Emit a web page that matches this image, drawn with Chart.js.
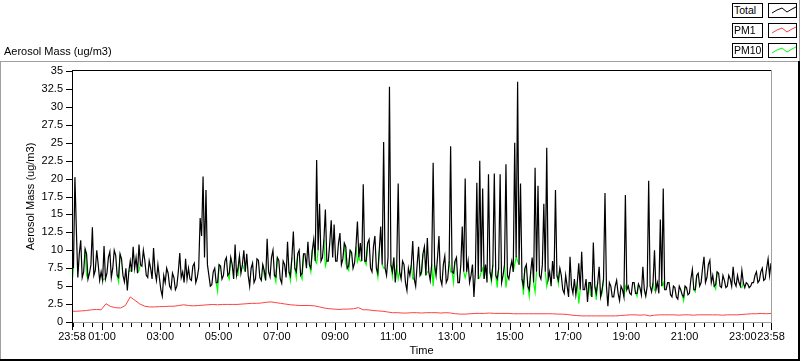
<!DOCTYPE html>
<html><head><meta charset="utf-8">
<script src="https://cdn.jsdelivr.net/npm/chart.js@4.4.0/dist/chart.umd.min.js"></script>
<style>
html,body{margin:0;padding:0;background:#fff;width:800px;height:361px;overflow:hidden;font-family:"Liberation Sans",Arial,sans-serif;}
#wrap{position:absolute;left:0;top:0;width:800px;height:361px;}
canvas{position:absolute;left:0;top:0;}
.ln{position:absolute;}
.ttl{position:absolute;left:4px;top:45px;font-size:11px;line-height:13px;color:#000;white-space:nowrap;}
.lg{position:absolute;box-sizing:border-box;border:1px solid #000;height:15px;background:#fff;font-size:10.5px;line-height:13px;padding-left:1px;color:#000;white-space:nowrap;overflow:hidden;}
.lgs{position:absolute;box-sizing:border-box;border:1px solid #000;height:15px;width:29px;background:#fff;}
.lgs svg{position:absolute;left:0;top:0;}
</style></head>
<body>
<div id="wrap">
<canvas id="c" width="800" height="361"></canvas>
<div class="ln" style="left:0;top:61px;width:799px;height:1px;background:#a0a0a0"></div>
<div class="ln" style="left:0;top:61px;width:1px;height:300px;background:#a0a0a0"></div>
<div class="ln" style="left:798px;top:61px;width:2px;height:300px;background:#000"></div>
<div class="ln" style="left:0;top:359px;width:800px;height:2px;background:#000"></div>
<div class="ln" style="left:799px;top:0;width:1px;height:61px;background:#a0a0a0"></div>
<div class="ttl">Aerosol Mass (ug/m3)</div>
<div id="legend"></div>
</div>
<script>
// ---- data (minutes since the 23:58 start) ----
// Total and PM10: one value every 3 minutes, one row per hour
const massStepMin = 3;
const totalMass = [
 10.5, 7.5, 20.2, 12.8, 6.2, 9.5, 11.4, 6.2, 7, 10.2, 9.5, 6, 6.8, 8, 13.2, 6.5, 7.2, 10, 8, 5.8,
 7, 5.8, 10.6, 6, 6.8, 9, 9.8, 6.2, 7.5, 10, 9.3, 6.5, 6.2, 9.5, 8.8, 6.5, 5.6, 7.5, 4.4, 7,
 8.5, 7, 10.5, 7.5, 9, 6.8, 10.8, 8, 7.8, 10, 8.6, 6.5, 6.2, 8.5, 7.5, 6, 10.3, 7, 5.8, 8,
 6.2, 4.5, 3.6, 6.5, 5.5, 7.5, 6.8, 5, 4.6, 6.8, 6.2, 4.5, 5, 7, 9.6, 6.2, 7, 5.5, 8.8, 6,
 7.5, 6, 5.8, 7.8, 8.2, 5.5, 6.2, 7.5, 14.5, 12, 20.3, 9, 18.4, 8, 6.5, 5, 5.2, 7, 7.5, 5.5,
 5.5, 8, 7.8, 6, 6.5, 8.5, 9, 6.5, 6.8, 9, 8, 6, 10.8, 6.5, 7.5, 9.2, 6.8, 8, 10, 7,
 9.5, 6.5, 5, 7.5, 8.2, 5.5, 6, 8.8, 8.6, 6.2, 5.8, 8, 7.2, 5.8, 11.6, 7, 6.3, 9, 10, 6.5,
 6.3, 9, 8.6, 6, 5.4, 8.5, 8, 6.2, 11.2, 7, 6.4, 9, 12.6, 7.5, 7, 9.5, 10, 6.5, 6.8, 9.5,
 9.5, 7.5, 11.2, 8, 7.5, 10, 11.5, 8.5, 22.6, 10, 16.5, 8.5, 9, 11.5, 15.7, 8.5, 8.5, 11, 14.2, 9,
 13.6, 8.5, 8.5, 11, 12.4, 8, 8.8, 11, 10.5, 7.5, 7.8, 10, 9.7, 7.5, 8.2, 10.5, 14, 9, 11, 8.5,
 19.2, 8.5, 8.5, 11, 11.5, 7.5, 7, 10.5, 12, 7.5, 6.8, 10, 13.3, 8, 25.1, 7.5, 6.5, 9, 32.8, 8,
 7, 9, 5.5, 8, 19.3, 7, 6, 8.5, 8, 5.5, 4.4, 7.5, 6.5, 8, 11.3, 6, 5, 8, 10.5, 6.5,
 7, 9.5, 10.5, 6.5, 11.7, 7, 5.8, 8, 22.2, 8, 6.5, 9, 12, 6, 5.2, 8, 9.2, 5.5, 6, 8.5,
 24.5, 7, 6.8, 8.5, 9, 5.5, 5.5, 8, 13.3, 7, 20, 7, 8.5, 5.5, 6.5, 8, 3.5, 7, 19.4, 6,
 22.5, 7, 18.6, 6, 8, 5.5, 20.6, 7, 6, 8, 20.7, 6.5, 6, 7.5, 20.6, 5.5, 6.5, 8, 22, 6.5,
 6, 7.5, 8.5, 7, 25, 9, 33.5, 8, 19.3, 6, 5, 7.5, 8, 5, 4.5, 7, 9, 5.5, 21.5, 7,
 19, 6.5, 6, 8, 16.5, 7, 24.3, 6, 7, 5, 8.5, 6, 18.4, 6.5, 5.8, 7.5, 6.5, 4.5, 4, 6.5,
 5, 3.5, 9.1, 5, 4, 6, 3.8, 5.5, 8.2, 4.5, 9.8, 4.5, 4.5, 6, 2.8, 5.5, 5.5, 3.5, 11.1, 5,
 4, 5.5, 7.7, 3.5, 4.5, 6, 18, 5, 2.2, 5.5, 5, 3.5, 3.5, 5, 5.8, 4, 3, 5, 4.5, 3.5,
 17.7, 4.5, 5, 4, 3.8, 5.5, 5.5, 4, 4, 5.3, 4.8, 3.8, 7.7, 4.5, 3.6, 5, 19.7, 5, 4.2, 5.5,
 10, 4.5, 5.5, 4, 14.3, 5, 18.6, 4.5, 4.5, 5.5, 5.5, 3.8, 3.5, 5, 4.8, 3.5, 3.2, 5, 4.5, 3.8,
 3.5, 5, 4.8, 3.8, 4, 6, 7.3, 4.5, 4.5, 6.5, 6.8, 5, 5.5, 7.5, 9.1, 5.5, 6.2, 8, 8.6, 5.5,
 6.5, 5, 5.2, 7, 6.8, 5, 4.8, 6.5, 5.8, 4.8, 5, 6.5, 6, 5, 7.7, 5.5, 5, 6.5, 5.5, 5,
 7.2, 5.5, 4.8, 5.5, 5.3, 4.8, 5, 5.5, 5.5, 6.5, 7, 5.5, 5.8, 7, 7.5, 5.8, 6, 7.5, 8.8, 6.5,
 8.2
];
const pm10Mass = [
 5.3, 7.5, 20.2, 12.8, 6.2, 9.5, 11.4, 6.2, 7, 10.2, 6.5, 6, 6.8, 8, 13.2, 6.5, 7.2, 10, 8, 5.8,
 7, 5.8, 6.0, 6, 6.8, 9, 9.8, 6.2, 7.5, 10, 9.3, 6.5, 5.6, 9.5, 8.8, 6.5, 5.6, 7.5, 4.4, 7,
 7.2, 7, 10.5, 7.5, 9, 6.8, 7.2, 8, 7.8, 10, 8.6, 6.5, 6.2, 8.5, 7.5, 6, 10.3, 7, 5.8, 8,
 6.2, 4.5, 3.6, 6.5, 5.5, 7.5, 6.8, 5, 4.6, 6.8, 6.2, 4.5, 5, 7, 9.6, 6.2, 7, 5.5, 8.8, 6,
 7.5, 6, 5.8, 7.8, 8.2, 5.5, 6.2, 7.5, 14.5, 12, 20.3, 9, 18.4, 8, 6.5, 5, 5.2, 7, 7.5, 5.5,
 4.3, 8, 7.8, 6, 6.5, 8.5, 9, 6.5, 6.0, 9, 8, 6, 10.8, 6.5, 6.5, 9.2, 6.8, 8, 7.5, 7,
 9.5, 6.5, 5, 7.5, 8.2, 5.5, 6, 8.8, 8.6, 6.2, 5.8, 8, 6.5, 5.8, 11.6, 7, 6.3, 9, 10, 6.5,
 5.6, 9, 8.6, 6, 5.4, 8.5, 8, 6.2, 11.2, 7, 5.8, 9, 12.6, 7.5, 6.2, 9.5, 10, 6.5, 6.0, 9.5,
 9.5, 7.5, 11.2, 8, 7.0, 10, 11.5, 8.5, 8.2, 10, 16.5, 8.5, 9, 11.5, 7.8, 8.5, 8.5, 11, 14.2, 9,
 13.6, 8.5, 8.5, 11, 12.4, 8, 8.8, 11, 8.2, 7.5, 7.2, 10, 9.7, 7.5, 8.2, 10.5, 8.4, 9, 8.5, 8.5,
 19.2, 8.5, 8.0, 11, 11.5, 7.5, 7, 10.5, 12, 7.5, 6.3, 10, 13.3, 8, 7.5, 7.5, 6.5, 9, 32.8, 8,
 6.4, 9, 5.5, 8, 6.0, 7, 6, 8.5, 8, 5.5, 4.4, 7.5, 6.5, 8, 6.0, 6, 5, 8, 10.5, 6.5,
 6.6, 9.5, 10.5, 6.5, 7.0, 7, 5.8, 8, 5.0, 8, 6.5, 9, 12, 6, 5.2, 8, 9.2, 5.5, 6, 8.5,
 7.0, 7, 5.5, 8.5, 9, 5.5, 5.5, 8, 13.3, 7, 6.2, 7, 8.5, 5.5, 6.5, 8, 3.5, 7, 19.4, 6,
 6.2, 7, 7.5, 6, 8, 5.5, 20.6, 7, 5.6, 8, 20.7, 6.5, 4.8, 7.5, 20.6, 5.5, 6.5, 8, 4.8, 6.5,
 6, 7.5, 8.5, 7, 8.0, 9, 8.5, 8, 19.3, 6, 3.8, 7.5, 8, 5, 3.6, 7, 9, 5.5, 4.2, 7,
 19, 6.5, 6, 8, 16.5, 7, 5.0, 6, 7, 5, 8.5, 6, 18.4, 6.5, 5.3, 7.5, 6.5, 4.5, 4, 6.5,
 5, 3.5, 9.1, 5, 4, 6, 3.8, 5.5, 2.6, 4.5, 9.8, 4.5, 4.5, 6, 2.8, 5.5, 3.8, 3.5, 11.1, 5,
 3.1, 5.5, 7.7, 3.5, 4.0, 6, 18, 5, 2.2, 5.5, 5, 3.5, 3.5, 5, 5.8, 4, 3, 5, 4.5, 3.5,
 5.0, 4.5, 5, 4, 3.8, 5.5, 5.5, 4, 3.6, 5.3, 4.8, 3.8, 7.7, 4.5, 3.6, 5, 19.7, 5, 4.2, 5.5,
 4.4, 4.5, 5.5, 4, 14.3, 5, 5.5, 4.5, 4.5, 5.5, 5.5, 3.8, 3.5, 5, 4.8, 3.5, 3.2, 5, 4.5, 3.8,
 3.0, 5, 4.8, 3.8, 4, 6, 7.3, 4.5, 4.2, 6.5, 6.8, 5, 5.5, 7.5, 9.1, 5.5, 6.2, 8, 8.6, 5.5,
 6.5, 5, 4.6, 7, 6.8, 5, 4.8, 6.5, 5.8, 4.8, 5, 6.5, 6, 5, 7.7, 5.5, 5, 6.5, 5.5, 5,
 4.8, 5.5, 4.8, 5.5, 5.3, 4.8, 5, 5.5, 5.5, 6.5, 7, 5.5, 5.8, 7, 7.5, 5.8, 6, 7.5, 8.8, 6.5,
 8.2
];
// PM1: one value every 10 minutes, one row per hour
const pm1StepMin = 10;
const pm1Mass = [
 1.5, 1.5, 1.55, 1.6, 1.7, 1.75,
 1.7, 2.55, 2.15, 2.0, 1.95, 2.3,
 3.5, 3.0, 2.5, 2.2, 2.1, 2.1,
 2.15, 2.15, 2.2, 2.2, 2.3, 2.4,
 2.3, 2.25, 2.3, 2.35, 2.4, 2.45,
 2.4, 2.45, 2.45, 2.45, 2.45, 2.5,
 2.55, 2.6, 2.6, 2.65, 2.75, 2.8,
 2.7, 2.6, 2.5, 2.4, 2.35, 2.3,
 2.3, 2.3, 2.25, 2.1, 1.95, 1.85,
 1.8, 1.75, 1.8, 1.8, 1.85, 2.0,
 1.7, 1.7, 1.6, 1.55, 1.5, 1.4,
 1.3, 1.3, 1.25, 1.25, 1.3, 1.3,
 1.25, 1.3, 1.3, 1.3, 1.25, 1.3,
 1.25, 1.15, 1.1, 1.1, 1.15, 1.2,
 1.2, 1.2, 1.25, 1.2, 1.2, 1.2,
 1.2, 1.15, 1.15, 1.15, 1.15, 1.15,
 1.15, 1.15, 1.15, 1.15, 1.1, 1.1,
 1.05, 0.95, 0.9, 0.85, 0.85, 0.85,
 0.85, 0.85, 0.85, 0.85, 0.85, 0.9,
 0.95, 1.0, 1.0, 0.95, 1.0, 0.85,
 0.95, 1.0, 1.0, 1.0, 1.0, 0.95,
 1.0, 1.0, 0.95, 1.0, 1.0, 1.0,
 1.0, 1.0, 0.95, 1.0, 1.0, 1.0,
 1.05, 1.1, 1.15, 1.15, 1.2, 1.15,
 1.2
];
const seriesNames = ['Total', 'PM1', 'PM10'];
const xTickMinutes = [0, 62, 182, 302, 422, 542, 662, 782, 902, 1022, 1142, 1262, 1382, 1440];
const xTickLabels = ['23:58','01:00','03:00','05:00','07:00','09:00','11:00','13:00','15:00','17:00','19:00','21:00','23:00','23:58'];
const yAxisTitle = 'Aerosol Mass (ug/m3)';
const xAxisTitle = 'Time';

// ---- build ----
const toPts = (arr, step) => arr.map((v, i) => ({x: i * step, y: v}));
const minorTicks = [];
for (let t = 2; t <= 1440; t += 20) minorTicks.push(t);

const colors = {Total: '#000000', PM1: '#ff4040', PM10: '#00ff00'};
// PM10 segments that lie exactly under the Total trace are hidden behind it
const pm10SegColor = c => (pm10Mass[c.p0DataIndex] === totalMass[c.p0DataIndex] &&
                           pm10Mass[c.p1DataIndex] === totalMass[c.p1DataIndex]) ? 'rgba(0,0,0,0)' : colors.PM10;

const framePlugin = {
  id: 'frame',
  afterDraw(chart) {
    const {ctx, chartArea: a, scales} = chart;
    const xs = scales.x, ys = scales.y;
    ctx.save();
    ctx.fillStyle = '#000';
    ys.ticks.forEach(tk => {
      const py = Math.round(ys.getPixelForValue(tk.value));
      ctx.fillRect(a.left - 6, py, 6, 1);
    });
    minorTicks.forEach(t => {
      const px = Math.round(xs.getPixelForValue(t));
      ctx.fillRect(px, a.bottom + 1, 1, 4);
    });
    xTickMinutes.forEach(t => {
      const px = Math.round(xs.getPixelForValue(t));
      ctx.fillRect(px, a.bottom + 1, 1, 7);
    });
    ctx.fillRect(a.left, a.top - 1, a.right - a.left + 1, 1);
    ctx.fillRect(a.left, a.top - 1, 1, a.bottom - a.top + 2);
    ctx.fillStyle = '#a0a0a0';
    ctx.fillRect(a.right, a.top - 1, 1, a.bottom - a.top + 2);
    ctx.fillRect(a.left + 1, a.bottom, a.right - a.left, 1);
    ctx.restore();
  }
};

Chart.defaults.font.family = '"Liberation Sans", Arial, sans-serif';
Chart.defaults.font.size = 11;
Chart.defaults.color = '#000';

new Chart(document.getElementById('c'), {
  type: 'line',
  data: {
    datasets: [
      {label: 'Total', data: toPts(totalMass, massStepMin), borderColor: colors.Total, borderWidth: 1.2, pointRadius: 0, tension: 0, order: 0},
      {label: 'PM10', data: toPts(pm10Mass, massStepMin), borderColor: colors.PM10, borderWidth: 1.2, pointRadius: 0, tension: 0, order: 1,
       segment: {borderColor: pm10SegColor}},
      {label: 'PM1', data: toPts(pm1Mass, pm1StepMin), borderColor: colors.PM1, borderWidth: 1, pointRadius: 0, tension: 0, order: 2}
    ]
  },
  options: {
    responsive: false,
    animation: false,
    events: [],
    layout: {padding: {left: 0, top: 71, right: 29, bottom: 0}},
    plugins: {legend: {display: false}, tooltip: {enabled: false}},
    scales: {
      x: {
        type: 'linear', min: 0, max: 1440,
        afterBuildTicks: s => { s.ticks = xTickMinutes.map(v => ({value: v})); },
        afterFit: s => { s.height = 39; },
        ticks: {autoSkip: false, maxRotation: 0, padding: 1, callback: (v, i) => xTickLabels[i]},
        grid: {display: true, drawOnChartArea: false, drawTicks: true, tickLength: 7, color: 'rgba(0,0,0,0)'},
        border: {display: false},
        title: {display: true, text: xAxisTitle, padding: {top: 0, bottom: 3}}
      },
      y: {
        min: 0, max: 35,
        afterFit: s => { s.width = 72; },
        ticks: {stepSize: 2.5, padding: 3, callback: v => String(v)},
        grid: {display: true, drawOnChartArea: false, drawTicks: true, tickLength: 6, color: 'rgba(0,0,0,0)'},
        border: {display: false},
        title: {display: true, text: yAxisTitle, padding: {top: 24, bottom: 0}}
      }
    }
  },
  plugins: [framePlugin]
});

// legend (HTML)
const lg = document.getElementById('legend');
const rowTops = [3, 23, 43];
seriesNames.forEach((name, i) => {
  const b = document.createElement('div');
  b.className = 'lg';
  b.style.left = '732px'; b.style.top = rowTops[i] + 'px'; b.style.width = '31px';
  b.textContent = name;
  lg.appendChild(b);
  const s = document.createElement('div');
  s.className = 'lgs';
  s.style.left = '768px'; s.style.top = rowTops[i] + 'px';
  s.innerHTML = '<svg width="29" height="15"><polyline points="3,9 8,6 13,4 18,8 23,5 27,3" fill="none" stroke="' + colors[name] + '" stroke-width="1"/></svg>';
  lg.appendChild(s);
});
</script>
</body></html>
